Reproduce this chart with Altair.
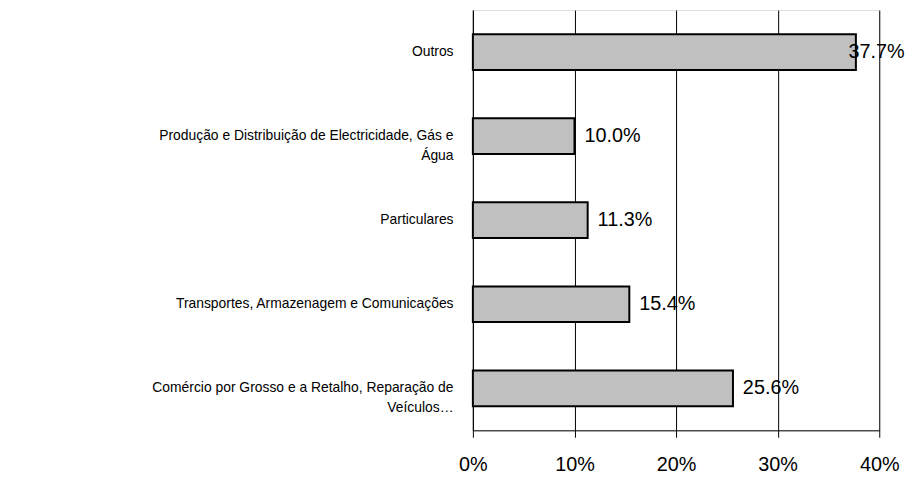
import altair as alt
import pandas as pd

categories = [
    "Outros",
    "Produção e Distribuição de Electricidade, Gás e|Água",
    "Particulares",
    "Transportes, Armazenagem e Comunicações",
    "Comércio por Grosso e a Retalho, Reparação de|Veículos…",
]
values = [37.7, 10.0, 11.3, 15.4, 25.6]
x_ticks = [0, 10, 20, 30, 40]

df = pd.DataFrame({"cat": categories, "value": values})

FONT = "Liberation Sans"

y_enc = alt.Y(
    "cat:N",
    sort=None,
    scale=alt.Scale(paddingInner=0.575, paddingOuter=0.2875),
    axis=alt.Axis(
        title=None,
        ticks=False,
        domain=True,
        domainColor="black",
        domainWidth=1,
        labelFont=FONT,
        labelFontSize=14,
        labelColor="black",
        labelPadding=20,
        labelLimit=460,
        labelLineHeight=20,
        labelExpr="split(datum.label, '|')",
    ),
)

x_enc = alt.X(
    "value:Q",
    scale=alt.Scale(domain=[0, 40], nice=False, zero=True),
    axis=alt.Axis(
        title=None,
        values=x_ticks,
        labelExpr="datum.value + '%'",
        labelFlush=False,
        grid=True,
        gridColor="black",
        gridWidth=1,
        gridOpacity=1,
        domainColor="black",
        tickColor="black",
        tickSize=7,
        labelFont=FONT,
        labelFontSize=20,
        labelColor="black",
        labelPadding=18,
    ),
)

bars = alt.Chart(df).mark_bar(
    fill="#C0C0C0", stroke="black", strokeWidth=2
).encode(x=x_enc, y=y_enc)

labels = alt.Chart(df).transform_calculate(
    lx="min(datum.value, 36.0)",
    txt="format(datum.value, '.1f') + '%'",
).mark_text(
    align="left", baseline="middle", dx=10, font=FONT, fontSize=20, color="black"
).encode(
    x=alt.X("lx:Q"),
    y=alt.Y("cat:N", sort=None),
    text="txt:N",
)

chart = alt.layer(bars, labels).properties(
    width=410,
    height=424,
    autosize=alt.AutoSizeParams(type="none"),
    padding={"left": 469, "top": 0, "right": 29, "bottom": 45},
).configure_view(stroke=None).configure(background="white")

chart.save("out.html", embed_options={"renderer": "svg", "actions": False})
